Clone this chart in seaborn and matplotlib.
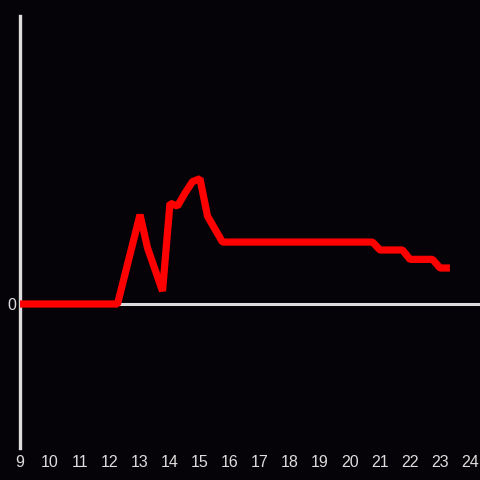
import pandas as pd
import matplotlib.pyplot as plt
import seaborn as sns

# values (hour of day, value)
hours = [9.0, 12.25, 13.0, 13.25, 13.5, 13.75, 14.0, 14.25, 14.5, 14.75, 15.0,
         15.25, 15.5, 15.75, 16.0, 17.0, 18.0, 19.0, 20.0, 20.75, 21.0, 21.75,
         22.0, 22.75, 23.0, 23.33]
values = [0.0, 0.0, 0.62, 0.39, 0.24, 0.09, 0.70, 0.68, 0.77, 0.85, 0.87,
          0.61, 0.52, 0.43, 0.43, 0.43, 0.43, 0.43, 0.43, 0.43, 0.375, 0.375,
          0.31, 0.31, 0.25, 0.25]
xticks = list(range(9, 25))

df = pd.DataFrame({"hour": hours, "value": values})

bg = "#050307"
fg = "#dddddd"

sns.set_style("dark")
plt.rcParams["font.family"] = ["Liberation Sans", "DejaVu Sans"]

fig = plt.figure(figsize=(4.8, 4.8), dpi=100, facecolor=bg)
ax = fig.add_axes([20 / 480, 1 - 448 / 480, 460 / 480, 432 / 480])
ax.set_facecolor(bg)

ax.axhline(0, color=fg, lw=2.2, zorder=1)
sns.lineplot(data=df, x="hour", y="value", ax=ax, color="#ff0000", lw=5.2,
             solid_capstyle="butt", solid_joinstyle="bevel", zorder=3)

ax.set_xlim(9, 9 + 460 / 30)
ax.set_ylim(-1, 2)
ax.set_xticks(xticks)
ax.set_xticklabels([str(t) for t in xticks])
ax.set_yticks([0])
ax.set_yticklabels(["0"])
ax.tick_params(axis="both", length=0, colors=fg, labelsize=11.5)
ax.tick_params(axis="x", pad=5)
ax.tick_params(axis="y", pad=3)
ax.set_xlabel("")
ax.set_ylabel("")
ax.grid(False)

for s in ["top", "right", "bottom"]:
    ax.spines[s].set_visible(False)
ax.spines["left"].set_color(fg)
ax.spines["left"].set_linewidth(2.4)

fig.savefig("out.png", dpi=100, facecolor=bg)
